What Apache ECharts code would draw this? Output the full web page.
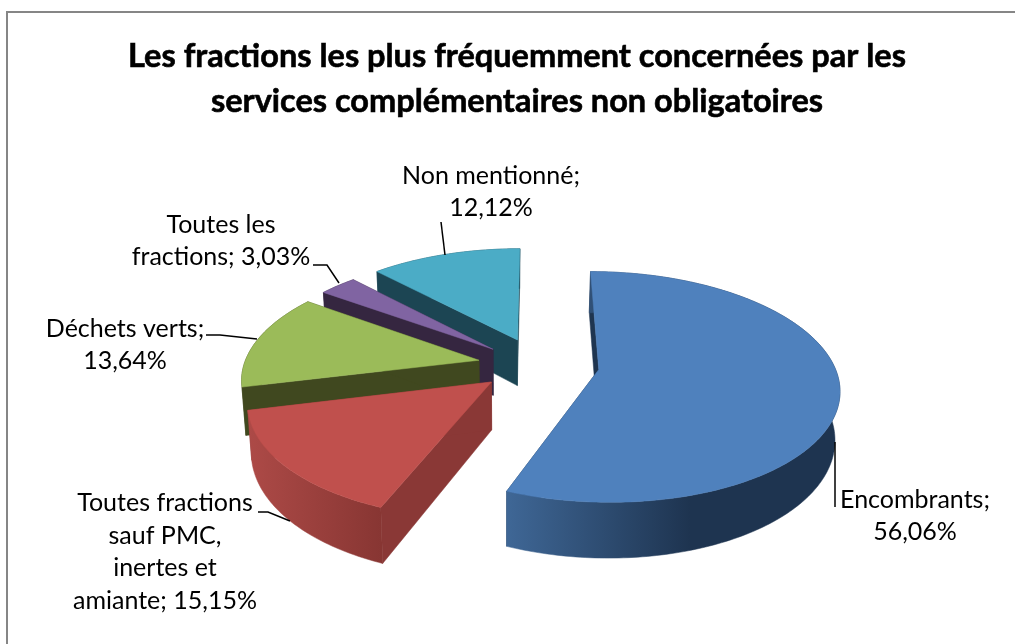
<!DOCTYPE html>
<html><head><meta charset="utf-8">
<style>html,body{margin:0;padding:0;background:#fff}#c{width:1015px;height:644px}</style>
<script src="https://cdn.jsdelivr.net/npm/echarts@6/dist/echarts.min.js"></script>
</head><body><div id="c"></div>
<script>
const titleText = 'Les fractions les plus fréquemment concernées par les\nservices complémentaires non obligatoires';
const categories = ['Encombrants', 'Toutes fractions sauf PMC, inertes et amiante', 'Déchets verts', 'Toutes les fractions', 'Non mentionné'];
const shares = [56.06, 15.15, 13.64, 3.03, 12.12];
const labelTemplates = ['Encombrants;\n{v}', 'Toutes fractions\nsauf PMC,\ninertes et\namiante; {v}', 'Déchets verts;\n{v}', 'Toutes les\nfractions; {v}', 'Non mentionné;\n{v}'];

const topColors = ['#4f81bd', '#c0504d', '#9bbb59', '#8064a2', '#4bacc6'];
const sideColors = ['#1f3550', '#8a3836', '#40481f', '#352640', '#1c4553'];
const arcLight = ['#3f6796', '#ad4a47', '#40481f', '#352640', '#1c4553'];
const arcDark = ['#1e3450', '#883633', '#40481f', '#352640', '#1c4553'];
const explode = [0.27, 0.218, 0.218, 0.218, 0.218];
const nudge = [[6, -3], [1, -1], [-1, -2], [1, -2], [6, -5]];
const layer = [5, 4, 3, 2, 1];

const view = {cx: 530, cy: 366.8, rx: 235, ry: 111, persp: 0.15, depth: 47, nadirX: 505, nadirK: 0.015};
const labelBoxes = [[915, 516], [165, 552], [125, 345], [221, 241], [491, 192]];
const leaders = [
  [[835, 442], [835, 507]],
  [[258, 512], [268, 512], [290, 521]],
  [[206, 335], [220, 335], [257, 339]],
  [[313, 265], [327, 265], [339, 283]],
  [[441, 222], [445, 255]]
];
const frame = [[7, 644], [7, 12], [1015, 12]];

function project(X, Z, down, n) {
  const s = 1 / (1 - view.persp * Z);
  let x = view.cx + view.rx * X * s + n[0];
  const y = view.cy + view.ry * Z * s + n[1] + (down ? view.depth * s : 0);
  if (down) x = view.nadirX + (x - view.nadirX) * (1 - view.nadirK);
  return [x, y];
}
function pt(off, deg, r) {
  const a = deg * Math.PI / 180;
  return [off[0] + r * Math.sin(a), off[1] - r * Math.cos(a)];
}
function renderSlice(params, api) {
  const i = params.dataIndex, value = api.value(0), nd = nudge[i];
  const total = shares.reduce((a, b) => a + b, 0);
  let before = 0;
  for (let k = 0; k < i; k++) before += shares[k];
  const a0 = before / total * 360, a1 = (before + value) / total * 360, mid = (a0 + a1) / 2;
  const off = pt([0, 0], mid, explode[i]);
  const arc = [];
  const n = Math.max(4, Math.ceil(a1 - a0));
  for (let k = 0; k <= n; k++) arc.push(pt(off, a0 + (a1 - a0) * k / n, 1));
  const topArc = arc.map(p => project(p[0], p[1], false, nd));
  const botArc = arc.map(p => project(p[0], p[1], true, nd));
  const tipT = project(off[0], off[1], false, nd), tipB = project(off[0], off[1], true, nd);
  const z = layer[i] * 10;
  const xs = topArc.map(p => p[0]);
  const minX = Math.min(...xs), maxX = Math.max(...xs);
  const wall = (pts, fill, d) => ({type: 'polygon', shape: {points: pts}, style: {fill: fill, stroke: fill, lineWidth: 0.5}, z2: z + d, silent: true});
  const grad = new echarts.graphic.LinearGradient(minX, 0, maxX, 0, [
    {offset: 0, color: arcLight[i]},
    {offset: i === 0 ? 0.55 : 1, color: arcDark[i]},
    {offset: 1, color: arcDark[i]}
  ], true);
  const first = topArc[0], firstB = botArc[0], last = topArc[n], lastB = botArc[n];
  return {type: 'group', children: [
    wall([tipT, first, firstB, tipB], sideColors[i], 0),
    wall([tipT, last, lastB, tipB], sideColors[i], 1),
    wall(topArc.concat(botArc.slice().reverse()), grad, 2),
    {type: 'polygon', shape: {points: [tipT].concat(topArc)}, style: {fill: topColors[i], stroke: topColors[i], lineWidth: 0.5}, z2: z + 3, silent: true}
  ]};
}
const fmt = v => v.toFixed(2).replace('.', ',') + '%';
const graphics = [
  {type: 'polyline', shape: {points: frame}, style: {fill: 'none', stroke: '#868686', lineWidth: 2}, silent: true}
];
leaders.forEach(pts => graphics.push({type: 'polyline', shape: {points: pts}, style: {stroke: '#000', lineWidth: 1.5, fill: 'none'}, z: 20, silent: true}));
labelTemplates.forEach((t, i) => graphics.push({type: 'text', x: labelBoxes[i][0], y: labelBoxes[i][1], z: 21, silent: true,
  style: {text: t.replace('{v}', fmt(shares[i])), fill: '#000', font: '25px Lato', lineHeight: 32.7, align: 'center', verticalAlign: 'middle'}}));

const chart = echarts.init(document.getElementById('c'), null, {renderer: 'canvas'});
chart.setOption({
  animation: false,
  backgroundColor: '#fff',
  title: {text: titleText, left: 512, top: 29, textAlign: 'center',
    textStyle: {fontFamily: 'Lato', fontWeight: 'bold', fontSize: 32.5, color: '#000', lineHeight: 45, textBorderColor: '#000', textBorderWidth: 0.6}},
  graphic: graphics,
  series: [{type: 'custom', coordinateSystem: 'none', renderItem: renderSlice, silent: true,
    data: shares.map((v, i) => ({name: categories[i], value: [v]}))}]
});
</script></body></html>
